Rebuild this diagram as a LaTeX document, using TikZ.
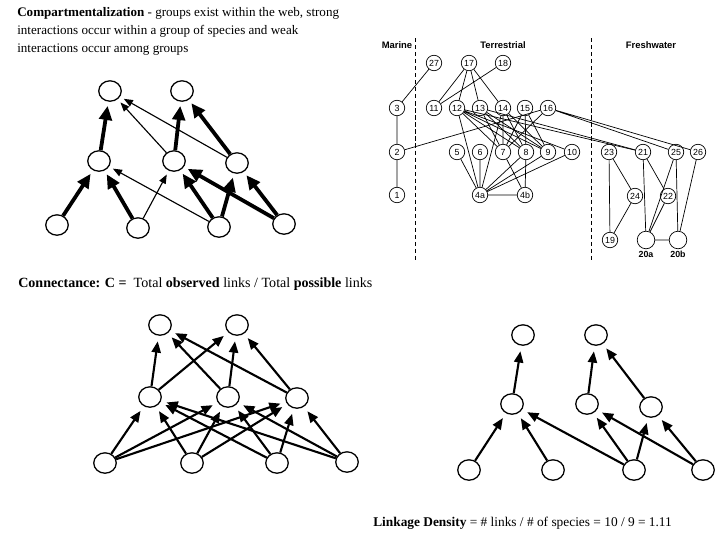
\documentclass[tikz,border=0pt]{standalone}
\usepackage{fontspec}
\setmainfont{Liberation Serif}
\setsansfont{Liberation Sans}
\usetikzlibrary{arrows.meta, shapes.geometric}

\begin{document}
\begin{tikzpicture}[x=0.025cm, y=-0.025cm,
    sp/.style={draw, ellipse, line width=0.9pt, minimum width=16pt, minimum height=14.5pt, inner sep=0pt},
    strong/.style={line width=2.7pt, -{Triangle[length=10pt, width=9pt]}, shorten >=3pt},
    weak/.style={line width=0.8pt, -{Triangle[length=6.5pt, width=5pt]}, shorten >=3pt},
    feed/.style={line width=1.5pt, -{Triangle[length=8pt, width=6.5pt]}, shorten >=4pt},
    sppnum/.style={draw, circle, line width=0.5pt, inner sep=0pt, minimum size=11pt, font=\sffamily\fontsize{6.3}{6.3}\selectfont},
    zone/.style={font=\sffamily\bfseries\fontsize{6.7}{7}\selectfont}]
    \useasboundingbox (0,0) rectangle (720,540);

    % Compartimentalizacao
    \node[anchor=north west, align=left, inner sep=0pt, font=\fontsize{9.3}{12.8}\selectfont] (tcomp) at (17,7)
        {\textbf{Compartmentalization} - groups exist within the web, strong\\ interactions occur within a group of species and weak\\ interactions occur among groups};
    \node[sp] (ct1) at (110,91) {};
    \node[sp] (ct2) at (182,91) {};
    \node[sp] (cm1) at (99,161) {};
    \node[sp] (cm2) at (174,161) {};
    \node[sp] (cm3) at (237,163) {};
    \node[sp] (cb1) at (57,225) {};
    \node[sp] (cb2) at (138,228) {};
    \node[sp] (cb3) at (219,227) {};
    \node[sp] (cb4) at (284,224) {};
    \draw[strong] (cm1) -- (ct1);
    \draw[weak] (cm2) -- (ct1);
    \draw[weak] (cm3) -- (ct1);
    \draw[strong] (cm2) -- (ct2);
    \draw[strong] (cm3) -- (ct2);
    \draw[strong] (cb1) -- (cm1);
    \draw[strong] (cb2) -- (cm1);
    \draw[weak] (cb2) -- (cm2);
    \draw[weak] (cb3) -- (cm1);
    \draw[strong] (cb3) -- (cm2);
    \draw[strong] (cb3) -- (cm3);
    \draw[strong] (cb4) -- (cm2);
    \draw[strong] (cb4) -- (cm3);

    % Teia real
    \node[zone] (zmar) at (397,45) {Marine};
    \node[zone] (zter) at (503,45) {Terrestrial};
    \node[zone] (zfre) at (651,45) {Freshwater};
    \draw[line width=0.6pt, dash pattern=on 3pt off 2pt] (415,38) -- (415,260);
    \draw[line width=0.6pt, dash pattern=on 3pt off 2pt] (591,38) -- (591,260);
    \node[sppnum] (n27) at (434,63) {27};
    \node[sppnum] (n17) at (469,63) {17};
    \node[sppnum] (n18) at (503,63) {18};
    \node[sppnum] (n3) at (397,108) {3};
    \node[sppnum] (n11) at (434,108) {11};
    \node[sppnum] (n12) at (457,108) {12};
    \node[sppnum] (n13) at (480,108) {13};
    \node[sppnum] (n14) at (503,108) {14};
    \node[sppnum] (n15) at (525,108) {15};
    \node[sppnum] (n16) at (548,108) {16};
    \node[sppnum] (n2) at (397,152) {2};
    \node[sppnum] (n5) at (457,152) {5};
    \node[sppnum] (n6) at (480,152) {6};
    \node[sppnum] (n7) at (503,152) {7};
    \node[sppnum] (n8) at (526,152) {8};
    \node[sppnum] (n9) at (548,152) {9};
    \node[sppnum] (n10) at (572,152) {10};
    \node[sppnum] (n23) at (609,152) {23};
    \node[sppnum] (n21) at (643,152) {21};
    \node[sppnum] (n25) at (676,152) {25};
    \node[sppnum] (n26) at (698,152) {26};
    \node[sppnum] (n1) at (397,195) {1};
    \node[sppnum] (n4a) at (480,195) {4a};
    \node[sppnum] (n4b) at (525,195) {4b};
    \node[sppnum] (n24) at (635,196) {24};
    \node[sppnum] (n22) at (668,196) {22};
    \node[sppnum] (n19) at (610,240) {19};
    \node[sppnum, minimum size=12.5pt, label={[font=\sffamily\bfseries\fontsize{6.3}{6.3}\selectfont, inner sep=1pt]below:20a}] (n20a) at (646,240) {};
    \node[sppnum, minimum size=12.5pt, label={[font=\sffamily\bfseries\fontsize{6.3}{6.3}\selectfont, inner sep=1pt]below:20b}] (n20b) at (678,240) {};
    \draw[line width=0.5pt] (n27) -- (n3) (n3) -- (n2) (n2) -- (n1) (n2) -- (n16);
    \draw[line width=0.5pt] (n17) -- (n11) (n17) -- (n12) (n17) -- (n13) (n17) -- (n14) (n18) -- (n11);
    \draw[line width=0.5pt] (n12) -- (n7) (n12) -- (n8) (n12) -- (n9) (n12) -- (n10) (n12) -- (n4a) (n12) -- (n21);
    \draw[line width=0.5pt] (n13) -- (n7) (n13) -- (n8) (n13) -- (n9) (n13) -- (n21);
    \draw[line width=0.5pt] (n14) -- (n7) (n14) -- (n8) (n14) -- (n9) (n14) -- (n4a);
    \draw[line width=0.5pt] (n15) -- (n7) (n15) -- (n8) (n15) -- (n9);
    \draw[line width=0.5pt] (n16) -- (n7) (n16) -- (n25) (n16) -- (n26);
    \draw[line width=0.5pt] (n5) -- (n4a) (n6) -- (n4a) (n8) -- (n4a) (n9) -- (n4a) (n10) -- (n4a) (n7) -- (n4b) (n8) -- (n4b) (n4a) -- (n4b);
    \draw[line width=0.5pt] (n23) -- (n19) (n23) -- (n24) (n24) -- (n19) (n21) -- (n20a) (n21) -- (n22) (n22) -- (n20a);
    \draw[line width=0.5pt] (n25) -- (n20a) (n25) -- (n20b) (n26) -- (n20b) (n20a) -- (n20b);

    % Conectancia
    \node[anchor=west, inner sep=0pt, font=\fontsize{10}{12}\selectfont] (tconn) at (18,284)
        {\textbf{Connectance: C =}\ \ Total \textbf{observed} links / Total \textbf{possible} links};
    \node[sp] (kt1) at (160,325) {};
    \node[sp] (kt2) at (237,325) {};
    \node[sp] (km1) at (150,397) {};
    \node[sp] (km2) at (228,397) {};
    \node[sp] (km3) at (297,398) {};
    \node[sp] (kb1) at (105,463) {};
    \node[sp] (kb2) at (192,463) {};
    \node[sp] (kb3) at (277,463) {};
    \node[sp] (kb4) at (347,462) {};
    \draw[feed] (km1) -- (kt1);
    \draw[feed] (km2) -- (kt1);
    \draw[feed] (km3) -- (kt1);
    \draw[feed] (km1) -- (kt2);
    \draw[feed] (km2) -- (kt2);
    \draw[feed] (km3) -- (kt2);
    \draw[feed] (kb1) -- (km1);
    \draw[feed] (kb2) -- (km1);
    \draw[feed] (kb3) -- (km1);
    \draw[feed] (kb4) -- (km1);
    \draw[feed] (kb1) -- (km2);
    \draw[feed] (kb2) -- (km2);
    \draw[feed] (kb3) -- (km2);
    \draw[feed] (kb4) -- (km2);
    \draw[feed] (kb1) -- (km3);
    \draw[feed] (kb2) -- (km3);
    \draw[feed] (kb3) -- (km3);
    \draw[feed] (kb4) -- (km3);

    % Densidade de ligacoes
    \node[sp] (dt1) at (523,335) {};
    \node[sp] (dt2) at (596,335) {};
    \node[sp] (dm1) at (512,404) {};
    \node[sp] (dm2) at (587,404) {};
    \node[sp] (dm3) at (651,407) {};
    \node[sp] (db1) at (469,470) {};
    \node[sp] (db2) at (553,470) {};
    \node[sp] (db3) at (634,470) {};
    \node[sp] (db4) at (703,470) {};
    \draw[feed] (dm1) -- (dt1);
    \draw[feed] (dm2) -- (dt2);
    \draw[feed] (dm3) -- (dt2);
    \draw[feed] (db1) -- (dm1);
    \draw[feed] (db2) -- (dm1);
    \draw[feed] (db3) -- (dm1);
    \draw[feed] (db3) -- (dm2);
    \draw[feed] (db3) -- (dm3);
    \draw[feed] (db4) -- (dm2);
    \draw[feed] (db4) -- (dm3);
    \node[anchor=west, inner sep=0pt, font=\fontsize{9.5}{12}\selectfont] (tdens) at (373,523)
        {\textbf{Linkage Density} = \# links / \# of species = 10 / 9 = 1.11};
\end{tikzpicture}
\end{document}
